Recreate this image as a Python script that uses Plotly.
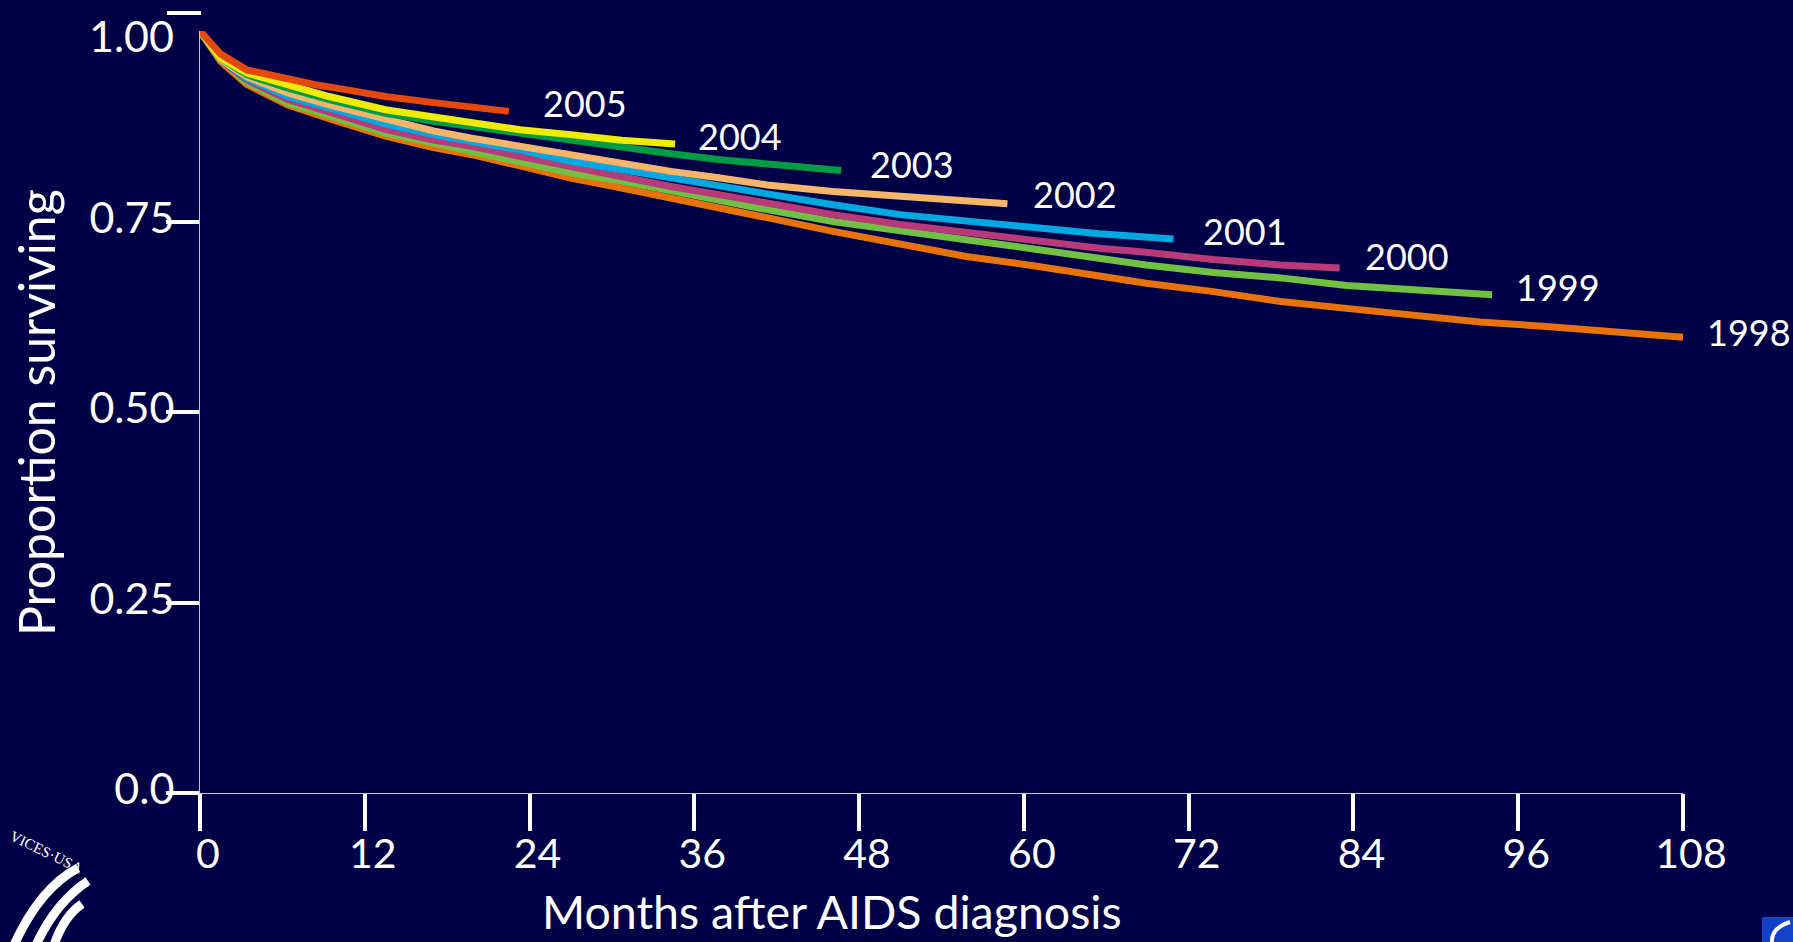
import plotly.graph_objects as go

# ---------------- data ----------------
years = ["1998", "1999", "2000", "2001", "2002", "2003", "2004", "2005"]

months_1998 = [0, 1.5, 3.4, 6.4, 9.4, 13.5, 17, 19.7, 23.3, 27, 30.7, 34.3, 37.9, 41.3, 46.1, 51, 55.8, 60.7, 65.5, 68.9, 73.8, 78.7, 83.5, 88.4, 93.2, 98.3, 103.1, 108]
surv_1998 = [1.0, 0.960, 0.930, 0.903, 0.885, 0.862, 0.847, 0.838, 0.823, 0.807, 0.794, 0.780, 0.766, 0.755, 0.737, 0.720, 0.704, 0.692, 0.678, 0.669, 0.658, 0.645, 0.636, 0.627, 0.618, 0.612, 0.6045, 0.598]

months_1999 = [0, 1.5, 3.4, 6.4, 9.4, 13.5, 17, 19.7, 23.3, 27, 30.7, 34.3, 37.9, 41.3, 46.1, 51, 55.8, 60.7, 65.5, 68.9, 73.8, 78.7, 83.5, 88.4, 94.1]
surv_1999 = [1.0, 0.962, 0.933, 0.9055, 0.889, 0.866, 0.853, 0.842, 0.829, 0.814, 0.803, 0.790, 0.778, 0.7655, 0.750, 0.737, 0.726, 0.714, 0.701, 0.693, 0.683, 0.676, 0.666, 0.660, 0.654]

months_2000 = [0, 1.5, 3.4, 6.4, 9.4, 13.5, 17, 19.7, 23.3, 27, 30.7, 34.3, 37.9, 41.3, 46.1, 51, 55.8, 60.7, 65.5, 68.9, 73.8, 78.7, 83]
surv_2000 = [1.0, 0.962, 0.936, 0.910, 0.894, 0.871, 0.857, 0.849, 0.8355, 0.8215, 0.809, 0.796, 0.785, 0.774, 0.759, 0.746, 0.735, 0.726, 0.715, 0.7095, 0.700, 0.693, 0.689]

months_2001 = [0, 1.5, 3.4, 6.4, 9.4, 13.5, 17, 19.7, 23.3, 27, 30.7, 34.3, 37.9, 41.3, 46.1, 51, 55.8, 60.7, 65.5, 70.9]
surv_2001 = [1.0, 0.963, 0.938, 0.914, 0.899, 0.878, 0.864, 0.855, 0.844, 0.829, 0.818, 0.807, 0.795, 0.785, 0.772, 0.759, 0.750, 0.7415, 0.734, 0.727]

months_2002 = [0, 1.5, 3.4, 6.4, 9.4, 13.5, 17, 19.7, 23.3, 27, 30.7, 34.3, 37.9, 41.3, 46.1, 51, 55.8, 58.8]
surv_2002 = [1.0, 0.9624, 0.940, 0.9186, 0.903, 0.8845, 0.869, 0.8596, 0.8486, 0.8377, 0.8268, 0.8158, 0.8071, 0.798, 0.7895, 0.783, 0.7764, 0.7734]

months_2003 = [0, 1.5, 3.4, 6.4, 9.4, 13.5, 17, 19.7, 23.3, 27, 30.7, 34.3, 37.9, 41.3, 46.7]
surv_2003 = [1.0, 0.964, 0.9427, 0.925, 0.910, 0.892, 0.8814, 0.8748, 0.864, 0.855, 0.8465, 0.839, 0.831, 0.826, 0.817]

months_2004 = [0, 1.5, 3.4, 6.4, 9.4, 13.5, 17, 19.7, 23.3, 27, 30.7, 34.6]
surv_2004 = [1.0, 0.9646, 0.945, 0.9295, 0.914, 0.8967, 0.8866, 0.879, 0.8705, 0.864, 0.8565, 0.8517]

months_2005 = [0, 1.5, 3.4, 6.4, 8.4, 10.6, 13.5, 17, 19.7, 22.5]
surv_2005 = [1.0, 0.9698, 0.949, 0.936, 0.9295, 0.923, 0.914, 0.906, 0.901, 0.8945]

x_tickvals = [0, 12, 24, 36, 48, 60, 72, 84, 96, 108]
y_tickvals = [0, 0.25, 0.5, 0.75]
y_ticktext = ["0.0", "0.25", "0.50", "0.75"]

# ---------------- styles ----------------
BG = "#000046"
FONT = "Lato"
colors = {
    "1998": "#e8720a",
    "1999": "#70c044",
    "2000": "#b83a78",
    "2001": "#00a8e1",
    "2002": "#f5b66c",
    "2003": "#009c45",
    "2004": "#eeec00",
    "2005": "#e4480a",
}
# label offsets from line end (pixels)
label_dx = {"1998": 22, "1999": 22, "2000": 23, "2001": 27, "2002": 24, "2003": 27, "2004": 21, "2005": 32}
label_dy = {"1998": 5, "1999": 8, "2000": 12, "2001": 8, "2002": 10, "2003": 6, "2004": 8, "2005": 8}

series = {
    "1998": (months_1998, surv_1998),
    "1999": (months_1999, surv_1999),
    "2000": (months_2000, surv_2000),
    "2001": (months_2001, surv_2001),
    "2002": (months_2002, surv_2002),
    "2003": (months_2003, surv_2003),
    "2004": (months_2004, surv_2004),
    "2005": (months_2005, surv_2005),
}

W, H = 1793, 942
L, R, T, B = 200, 110, 31, 149
PW, PH = W - L - R, H - T - B


def px(xp):
    return (xp - L) / PW


def py(yp):
    return (H - B - yp) / PH


fig = go.Figure()
annotations = []
for yr in years:
    m, s = series[yr]
    fig.add_trace(go.Scatter(
        x=m, y=s, mode="lines", name=yr,
        line=dict(color=colors[yr], width=7),
        cliponaxis=False, showlegend=False, hoverinfo="skip",
    ))
    annotations.append(dict(
        x=m[-1], y=s[-1], xref="x", yref="y", text=yr, showarrow=False,
        xanchor="left", yanchor="middle", xshift=label_dx[yr], yshift=label_dy[yr],
        font=dict(family=FONT, size=36, color="white"),
    ))

# 1.00 tick label (its tick mark is drawn displaced above in the original)
annotations.append(dict(
    x=px(176), y=py(36), xref="paper", yref="paper", text="1.00", showarrow=False,
    xanchor="right", yanchor="middle", font=dict(family=FONT, size=43, color="white"),
))
# axis titles
annotations.append(dict(
    x=px(36), y=py(413), xref="paper", yref="paper", text="Proportion surviving",
    showarrow=False, textangle=-90, xanchor="center", yanchor="middle",
    font=dict(family=FONT, size=50, color="white"),
))
annotations.append(dict(
    x=px(832), y=py(911), xref="paper", yref="paper", text="Months after AIDS diagnosis",
    showarrow=False, xanchor="center", yanchor="middle",
    font=dict(family=FONT, size=46.5, color="white"),
))
# partial logo text at bottom-left
annotations.append(dict(
    x=px(46), y=py(852), xref="paper", yref="paper", text="VICES·USA",
    showarrow=False, textangle=26, xanchor="center", yanchor="middle",
    font=dict(family="Liberation Serif", size=15, color="white"),
))

shapes = [
    # displaced top tick
    dict(type="line", xref="paper", yref="paper", x0=px(167), x1=px(201), y0=py(13), y1=py(13),
         line=dict(color="white", width=4)),
]


def ppath(pts):
    (x0, y0), (cx, cy), (x1, y1) = pts
    return "M {} {} Q {} {} {} {}".format(px(x0), py(y0), px(cx), py(cy), px(x1), py(y1))


for pts in [((78, 868), (40, 888), (14, 945)),
            ((88, 881), (56, 902), (36, 945)),
            ((82, 904), (64, 916), (54, 945))]:
    shapes.append(dict(type="path", xref="paper", yref="paper", path=ppath(pts),
                       line=dict(color="white", width=9)))
# partial logo at bottom-right
shapes.append(dict(type="rect", xref="paper", yref="paper", x0=px(1762), x1=px(1800),
                   y0=py(950), y1=py(917), fillcolor="#1440c8", line=dict(width=0)))
shapes.append(dict(type="path", xref="paper", yref="paper",
                   path=ppath(((1790, 922), (1770, 928), (1772, 945))),
                   line=dict(color="white", width=4)))

fig.update_layout(
    width=W, height=H, autosize=False,
    margin=dict(l=L, r=R, t=T, b=B),
    paper_bgcolor=BG, plot_bgcolor=BG,
    showlegend=False,
    annotations=annotations,
    shapes=shapes,
    xaxis=dict(
        range=[0, 108], tickmode="array", tickvals=x_tickvals,
        ticks="outside", ticklen=37, tickwidth=4, tickcolor="white",
        showline=True, linecolor="#c4c4d8", linewidth=1,
        showgrid=False, zeroline=False, ticklabelshift=8, ticklabelstandoff=-12,
        tickfont=dict(family=FONT, size=41, color="white"),
    ),
    yaxis=dict(
        range=[0, 1], tickmode="array", tickvals=y_tickvals, ticktext=y_ticktext,
        ticks="outside", ticklen=33, tickwidth=4, tickcolor="white",
        showline=True, linecolor="#c4c4d8", linewidth=1,
        showgrid=False, zeroline=False, ticklabelstandoff=-17, ticklabelshift=-4,
        tickfont=dict(family=FONT, size=43, color="white"),
    ),
)

fig.write_html(
    "out.html",
    config={"displayModeBar": False},
    post_script="document.body.style.margin='0';document.body.style.overflow='hidden';"
                "document.body.style.background='" + BG + "';",
)
